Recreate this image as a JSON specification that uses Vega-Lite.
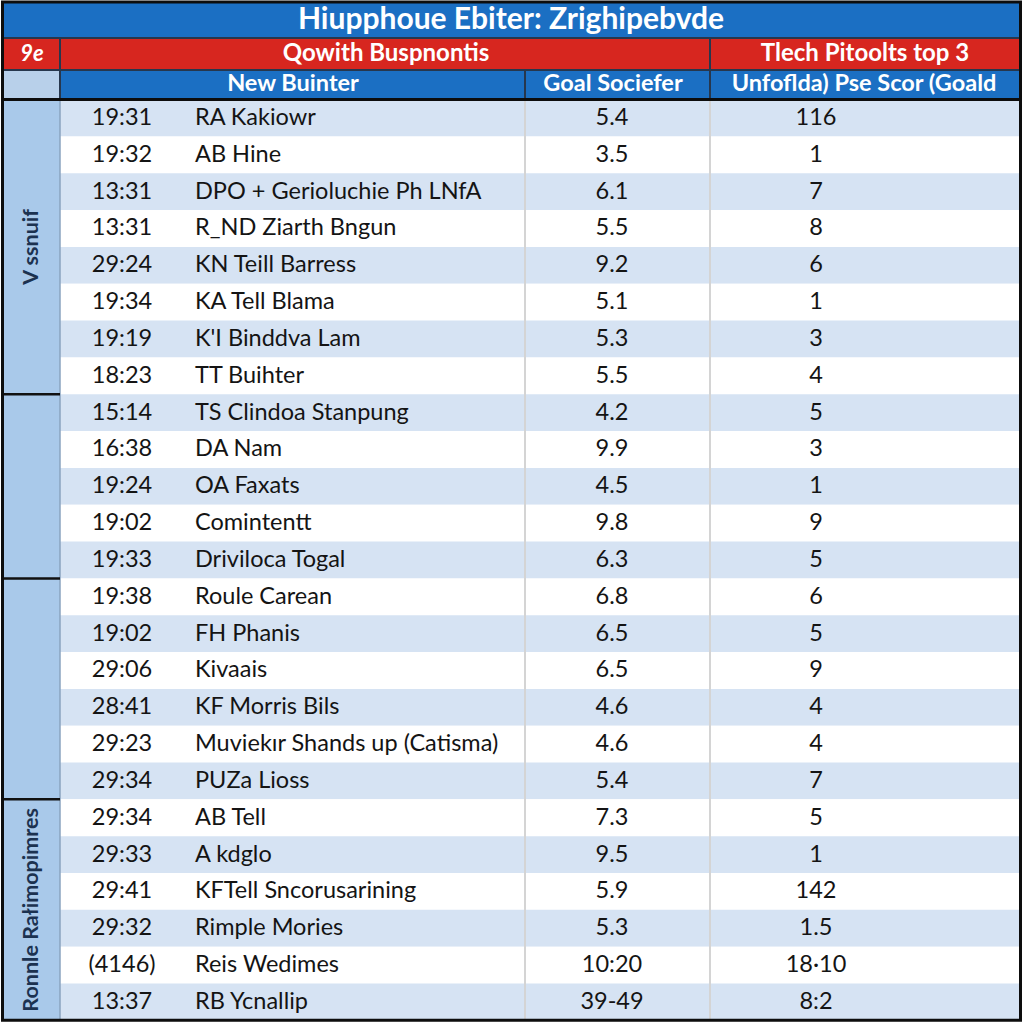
{
  "$schema": "https://vega.github.io/schema/vega-lite/v6.json",
  "width": 1024,
  "height": 1024,
  "padding": 0,
  "autosize": {"type": "none"},
  "background": "#ffffff",
  "config": {"view": {"stroke": null}, "axis": {"disable": true}},
  "datasets": {
    "rows": [
      {"time": "19:31", "name": "RA Kakiowr", "goal": "5.4", "score": "116", "section": "A", "label": "V ssnuif"},
      {"time": "19:32", "name": "AB Hine", "goal": "3.5", "score": "1", "section": "A", "label": "V ssnuif"},
      {"time": "13:31", "name": "DPO + Gerioluchie Ph LNfA", "goal": "6.1", "score": "7", "section": "A", "label": "V ssnuif"},
      {"time": "13:31", "name": "R_ND  Ziarth Bngun", "goal": "5.5", "score": "8", "section": "A", "label": "V ssnuif"},
      {"time": "29:24", "name": "KN Teill Barress", "goal": "9.2", "score": "6", "section": "A", "label": "V ssnuif"},
      {"time": "19:34", "name": "KA Tell Blama", "goal": "5.1", "score": "1", "section": "A", "label": "V ssnuif"},
      {"time": "19:19", "name": "K'I Binddva Lam", "goal": "5.3", "score": "3", "section": "A", "label": "V ssnuif"},
      {"time": "18:23", "name": "TT Buihter", "goal": "5.5", "score": "4", "section": "A", "label": "V ssnuif"},
      {"time": "15:14", "name": "TS Clindoa Stanpung", "goal": "4.2", "score": "5", "section": "B", "label": ""},
      {"time": "16:38", "name": "DA Nam", "goal": "9.9", "score": "3", "section": "B", "label": ""},
      {"time": "19:24", "name": "OA Faxats", "goal": "4.5", "score": "1", "section": "B", "label": ""},
      {"time": "19:02", "name": "Comintentt", "goal": "9.8", "score": "9", "section": "B", "label": ""},
      {"time": "19:33", "name": "Driviloca Togal", "goal": "6.3", "score": "5", "section": "B", "label": ""},
      {"time": "19:38", "name": "Roule Carean", "goal": "6.8", "score": "6", "section": "C", "label": ""},
      {"time": "19:02", "name": "FH Phanis", "goal": "6.5", "score": "5", "section": "C", "label": ""},
      {"time": "29:06", "name": "Kivaais", "goal": "6.5", "score": "9", "section": "C", "label": ""},
      {"time": "28:41", "name": "KF Morris Bils", "goal": "4.6", "score": "4", "section": "C", "label": ""},
      {"time": "29:23", "name": "Muviekır Shands up (Catisma)", "goal": "4.6", "score": "4", "section": "C", "label": ""},
      {"time": "29:34", "name": "PUZa Lioss", "goal": "5.4", "score": "7", "section": "C", "label": ""},
      {"time": "29:34", "name": "AB Tell", "goal": "7.3", "score": "5", "section": "D", "label": "Ronnle Rałimopimres"},
      {"time": "29:33", "name": "A kdglo", "goal": "9.5", "score": "1", "section": "D", "label": "Ronnle Rałimopimres"},
      {"time": "29:41", "name": "KFTell Sncorusarining", "goal": "5.9", "score": "142", "section": "D", "label": "Ronnle Rałimopimres"},
      {"time": "29:32", "name": "Rimple Mories", "goal": "5.3", "score": "1.5", "section": "D", "label": "Ronnle Rałimopimres"},
      {"time": "(4146)", "name": "Reis Wedimes", "goal": "10:20", "score": "18·10", "section": "D", "label": "Ronnle Rałimopimres"},
      {"time": "13:37", "name": "RB Ycnallip", "goal": "39-49", "score": "8:2", "section": "D", "label": "Ronnle Rałimopimres"}
    ]
  },
  "data": {"values": [{"cell": "table"}]},
  "layer": [
    {
      "data": {"name": "rows"},
      "transform": [{"window": [{"op": "row_number", "as": "i"}]}, {"calculate": "datum.i - 1", "as": "i0"}],
      "mark": {"type": "rect"},
      "encoding": {
        "x": {"datum": 60, "type": "quantitative", "scale": {"domain": [0, 1024], "nice": false, "zero": false}},
        "x2": {"datum": 1020},
        "y": {"field": "i0", "type": "quantitative", "scale": {"domain": [-2.704, 25.099], "nice": false, "zero": false, "reverse": true}},
        "y2": {"field": "i"},
        "fill": {"condition": {"test": "datum.i % 2 == 1", "value": "#d6e3f3"}, "value": "#ffffff"}
      }
    },
    {
      "mark": {"type": "rect", "fill": "#a9c9ea"},
      "encoding": {
        "x": {"datum": 3, "type": "quantitative", "scale": {"domain": [0, 1024], "nice": false, "zero": false}},
        "x2": {"datum": 60},
        "y": {"datum": 0, "type": "quantitative", "scale": {"domain": [-2.704, 25.099], "nice": false, "zero": false, "reverse": true}},
        "y2": {"datum": 25}
      }
    },
    {
      "mark": {"type": "rule", "stroke": "#d4d4d4", "strokeWidth": 2},
      "encoding": {
        "x": {"datum": 525, "type": "quantitative", "scale": {"domain": [0, 1024], "nice": false, "zero": false}},
        "y": {"datum": 0, "type": "quantitative", "scale": {"domain": [-2.704, 25.099], "nice": false, "zero": false, "reverse": true}},
        "y2": {"datum": 25}
      }
    },
    {
      "mark": {"type": "rule", "stroke": "#d4d4d4", "strokeWidth": 2},
      "encoding": {
        "x": {"datum": 710, "type": "quantitative", "scale": {"domain": [0, 1024], "nice": false, "zero": false}},
        "y": {"datum": 0, "type": "quantitative", "scale": {"domain": [-2.704, 25.099], "nice": false, "zero": false, "reverse": true}},
        "y2": {"datum": 25}
      }
    },
    {
      "mark": {"type": "rule", "stroke": "#8aa3bf", "strokeWidth": 1.5},
      "encoding": {
        "x": {"datum": 60, "type": "quantitative", "scale": {"domain": [0, 1024], "nice": false, "zero": false}},
        "y": {"datum": 0, "type": "quantitative", "scale": {"domain": [-2.704, 25.099], "nice": false, "zero": false, "reverse": true}},
        "y2": {"datum": 25}
      }
    },
    {
      "data": {"name": "rows"},
      "transform": [
        {"window": [{"op": "row_number", "as": "i"}]},
        {"aggregate": [{"op": "max", "field": "i", "as": "last"}], "groupby": ["section"]},
        {"filter": "datum.last < 25"}
      ],
      "mark": {"type": "rule", "stroke": "#111111", "strokeWidth": 2.5},
      "encoding": {
        "x": {"datum": 3, "type": "quantitative", "scale": {"domain": [0, 1024], "nice": false, "zero": false}},
        "x2": {"datum": 60},
        "y": {"field": "last", "type": "quantitative", "scale": {"domain": [-2.704, 25.099], "nice": false, "zero": false, "reverse": true}}
      }
    },
    {
      "data": {"name": "rows"},
      "transform": [
        {"window": [{"op": "row_number", "as": "i"}]},
        {"aggregate": [{"op": "min", "field": "i", "as": "first"}, {"op": "max", "field": "i", "as": "last"}], "groupby": ["section", "label"]},
        {"calculate": "(datum.first - 1 + datum.last) / 2", "as": "mid"}
      ],
      "mark": {"type": "text", "angle": 270, "font": "Lato", "fontWeight": "bold", "fontSize": 21.5, "fill": "#1c3250", "align": "center", "baseline": "middle"},
      "encoding": {
        "x": {"datum": 32, "type": "quantitative", "scale": {"domain": [0, 1024], "nice": false, "zero": false}},
        "y": {"field": "mid", "type": "quantitative", "scale": {"domain": [-2.704, 25.099], "nice": false, "zero": false, "reverse": true}},
        "text": {"field": "label"}
      }
    },
    {
      "mark": {"type": "rect", "fill": "#1b6fc3"},
      "encoding": {
        "x": {"datum": 3, "type": "quantitative", "scale": {"domain": [0, 1024], "nice": false, "zero": false}},
        "x2": {"datum": 1020},
        "y": {"datum": -2.65, "type": "quantitative", "scale": {"domain": [-2.704, 25.099], "nice": false, "zero": false, "reverse": true}},
        "y2": {"datum": -1.673}
      }
    },
    {
      "mark": {"type": "rect", "fill": "#d7261f"},
      "encoding": {
        "x": {"datum": 3, "type": "quantitative", "scale": {"domain": [0, 1024], "nice": false, "zero": false}},
        "x2": {"datum": 1020},
        "y": {"datum": -1.673, "type": "quantitative", "scale": {"domain": [-2.704, 25.099], "nice": false, "zero": false, "reverse": true}},
        "y2": {"datum": -0.804}
      }
    },
    {
      "mark": {"type": "rect", "fill": "#1b6fc3"},
      "encoding": {
        "x": {"datum": 60, "type": "quantitative", "scale": {"domain": [0, 1024], "nice": false, "zero": false}},
        "x2": {"datum": 1020},
        "y": {"datum": -0.804, "type": "quantitative", "scale": {"domain": [-2.704, 25.099], "nice": false, "zero": false, "reverse": true}},
        "y2": {"datum": 0}
      }
    },
    {
      "mark": {"type": "rect", "fill": "#b8d0ea"},
      "encoding": {
        "x": {"datum": 3, "type": "quantitative", "scale": {"domain": [0, 1024], "nice": false, "zero": false}},
        "x2": {"datum": 60},
        "y": {"datum": -0.804, "type": "quantitative", "scale": {"domain": [-2.704, 25.099], "nice": false, "zero": false, "reverse": true}},
        "y2": {"datum": 0}
      }
    },
    {
      "mark": {"type": "rule", "stroke": "#27374d", "strokeWidth": 2},
      "encoding": {
        "x": {"datum": 3, "type": "quantitative", "scale": {"domain": [0, 1024], "nice": false, "zero": false}},
        "x2": {"datum": 1020},
        "y": {"datum": -1.673, "type": "quantitative", "scale": {"domain": [-2.704, 25.099], "nice": false, "zero": false, "reverse": true}}
      }
    },
    {
      "mark": {"type": "rule", "stroke": "#27374d", "strokeWidth": 2},
      "encoding": {
        "x": {"datum": 3, "type": "quantitative", "scale": {"domain": [0, 1024], "nice": false, "zero": false}},
        "x2": {"datum": 1020},
        "y": {"datum": -0.804, "type": "quantitative", "scale": {"domain": [-2.704, 25.099], "nice": false, "zero": false, "reverse": true}}
      }
    },
    {
      "mark": {"type": "rule", "stroke": "#27374d", "strokeWidth": 2},
      "encoding": {
        "x": {"datum": 60, "type": "quantitative", "scale": {"domain": [0, 1024], "nice": false, "zero": false}},
        "y": {"datum": -1.673, "type": "quantitative", "scale": {"domain": [-2.704, 25.099], "nice": false, "zero": false, "reverse": true}},
        "y2": {"datum": 0}
      }
    },
    {
      "mark": {"type": "rule", "stroke": "#27374d", "strokeWidth": 2},
      "encoding": {
        "x": {"datum": 710, "type": "quantitative", "scale": {"domain": [0, 1024], "nice": false, "zero": false}},
        "y": {"datum": -1.673, "type": "quantitative", "scale": {"domain": [-2.704, 25.099], "nice": false, "zero": false, "reverse": true}},
        "y2": {"datum": 0}
      }
    },
    {
      "mark": {"type": "rule", "stroke": "#27374d", "strokeWidth": 2},
      "encoding": {
        "x": {"datum": 525, "type": "quantitative", "scale": {"domain": [0, 1024], "nice": false, "zero": false}},
        "y": {"datum": -0.804, "type": "quantitative", "scale": {"domain": [-2.704, 25.099], "nice": false, "zero": false, "reverse": true}},
        "y2": {"datum": 0}
      }
    },
    {
      "mark": {"type": "rule", "stroke": "#0d0d0d", "strokeWidth": 3},
      "encoding": {
        "x": {"datum": 3, "type": "quantitative", "scale": {"domain": [0, 1024], "nice": false, "zero": false}},
        "x2": {"datum": 1020},
        "y": {"datum": 0, "type": "quantitative", "scale": {"domain": [-2.704, 25.099], "nice": false, "zero": false, "reverse": true}}
      }
    },
    {
      "mark": {"type": "rect", "fill": null, "fillOpacity": 0, "stroke": "#0d0d0d", "strokeWidth": 3},
      "encoding": {
        "x": {"datum": 2.5, "type": "quantitative", "scale": {"domain": [0, 1024], "nice": false, "zero": false}},
        "x2": {"datum": 1020.5},
        "y": {"datum": -2.65, "type": "quantitative", "scale": {"domain": [-2.704, 25.099], "nice": false, "zero": false, "reverse": true}},
        "y2": {"datum": 25.0}
      }
    },
    {
      "data": {"values": [{"t": "Hiupphoue Ebiter: Zrighipebvde"}]},
      "mark": {"type": "text", "font": "Lato", "fontWeight": "bold", "fontSize": 30, "fill": "#ffffff", "align": "center", "baseline": "middle"},
      "encoding": {
        "x": {"datum": 511, "type": "quantitative", "scale": {"domain": [0, 1024], "nice": false, "zero": false}},
        "y": {"datum": -2.15, "type": "quantitative", "scale": {"domain": [-2.704, 25.099], "nice": false, "zero": false, "reverse": true}},
        "text": {"field": "t"}
      }
    },
    {
      "data": {"values": [{"t": "9e"}]},
      "mark": {"type": "text", "font": "Lato", "fontWeight": "bold", "fontStyle": "italic", "fontSize": 22, "fill": "#ffffff", "align": "center", "baseline": "middle"},
      "encoding": {
        "x": {"datum": 32, "type": "quantitative", "scale": {"domain": [0, 1024], "nice": false, "zero": false}},
        "y": {"datum": -1.238, "type": "quantitative", "scale": {"domain": [-2.704, 25.099], "nice": false, "zero": false, "reverse": true}},
        "text": {"field": "t"}
      }
    },
    {
      "data": {"values": [{"t": "Qowith Buspnontis"}]},
      "mark": {"type": "text", "font": "Lato", "fontWeight": "bold", "fontSize": 24, "fill": "#ffffff", "align": "center", "baseline": "middle"},
      "encoding": {
        "x": {"datum": 386, "type": "quantitative", "scale": {"domain": [0, 1024], "nice": false, "zero": false}},
        "y": {"datum": -1.238, "type": "quantitative", "scale": {"domain": [-2.704, 25.099], "nice": false, "zero": false, "reverse": true}},
        "text": {"field": "t"}
      }
    },
    {
      "data": {"values": [{"t": "Tlech Pitoolts top 3"}]},
      "mark": {"type": "text", "font": "Lato", "fontWeight": "bold", "fontSize": 24, "fill": "#ffffff", "align": "center", "baseline": "middle"},
      "encoding": {
        "x": {"datum": 865, "type": "quantitative", "scale": {"domain": [0, 1024], "nice": false, "zero": false}},
        "y": {"datum": -1.238, "type": "quantitative", "scale": {"domain": [-2.704, 25.099], "nice": false, "zero": false, "reverse": true}},
        "text": {"field": "t"}
      }
    },
    {
      "data": {"values": [{"t": "New Buinter"}]},
      "mark": {"type": "text", "font": "Lato", "fontWeight": "bold", "fontSize": 23.5, "fill": "#ffffff", "align": "center", "baseline": "middle"},
      "encoding": {
        "x": {"datum": 293, "type": "quantitative", "scale": {"domain": [0, 1024], "nice": false, "zero": false}},
        "y": {"datum": -0.424, "type": "quantitative", "scale": {"domain": [-2.704, 25.099], "nice": false, "zero": false, "reverse": true}},
        "text": {"field": "t"}
      }
    },
    {
      "data": {"values": [{"t": "Goal Sociefer"}]},
      "mark": {"type": "text", "font": "Lato", "fontWeight": "bold", "fontSize": 23.5, "fill": "#ffffff", "align": "center", "baseline": "middle"},
      "encoding": {
        "x": {"datum": 613, "type": "quantitative", "scale": {"domain": [0, 1024], "nice": false, "zero": false}},
        "y": {"datum": -0.424, "type": "quantitative", "scale": {"domain": [-2.704, 25.099], "nice": false, "zero": false, "reverse": true}},
        "text": {"field": "t"}
      }
    },
    {
      "data": {"values": [{"t": "Unfoflda) Pse Scor (Goald"}]},
      "mark": {"type": "text", "font": "Lato", "fontWeight": "bold", "fontSize": 23.5, "fill": "#ffffff", "align": "center", "baseline": "middle"},
      "encoding": {
        "x": {"datum": 864, "type": "quantitative", "scale": {"domain": [0, 1024], "nice": false, "zero": false}},
        "y": {"datum": -0.424, "type": "quantitative", "scale": {"domain": [-2.704, 25.099], "nice": false, "zero": false, "reverse": true}},
        "text": {"field": "t"}
      }
    },
    {
      "data": {"name": "rows"},
      "transform": [{"window": [{"op": "row_number", "as": "i"}]}, {"calculate": "datum.i - 0.5", "as": "mid"}],
      "mark": {"type": "text", "font": "Lato", "fontSize": 23.5, "fill": "#141414", "align": "center", "baseline": "middle"},
      "encoding": {
        "x": {"datum": 122, "type": "quantitative", "scale": {"domain": [0, 1024], "nice": false, "zero": false}},
        "y": {"field": "mid", "type": "quantitative", "scale": {"domain": [-2.704, 25.099], "nice": false, "zero": false, "reverse": true}},
        "text": {"field": "time"}
      }
    },
    {
      "data": {"name": "rows"},
      "transform": [{"window": [{"op": "row_number", "as": "i"}]}, {"calculate": "datum.i - 0.5", "as": "mid"}],
      "mark": {"type": "text", "font": "Lato", "fontSize": 23.5, "fill": "#141414", "align": "left", "baseline": "middle"},
      "encoding": {
        "x": {"datum": 195, "type": "quantitative", "scale": {"domain": [0, 1024], "nice": false, "zero": false}},
        "y": {"field": "mid", "type": "quantitative", "scale": {"domain": [-2.704, 25.099], "nice": false, "zero": false, "reverse": true}},
        "text": {"field": "name"}
      }
    },
    {
      "data": {"name": "rows"},
      "transform": [{"window": [{"op": "row_number", "as": "i"}]}, {"calculate": "datum.i - 0.5", "as": "mid"}],
      "mark": {"type": "text", "font": "Lato", "fontSize": 23.5, "fill": "#141414", "align": "center", "baseline": "middle"},
      "encoding": {
        "x": {"datum": 612, "type": "quantitative", "scale": {"domain": [0, 1024], "nice": false, "zero": false}},
        "y": {"field": "mid", "type": "quantitative", "scale": {"domain": [-2.704, 25.099], "nice": false, "zero": false, "reverse": true}},
        "text": {"field": "goal"}
      }
    },
    {
      "data": {"name": "rows"},
      "transform": [{"window": [{"op": "row_number", "as": "i"}]}, {"calculate": "datum.i - 0.5", "as": "mid"}],
      "mark": {"type": "text", "font": "Lato", "fontSize": 23.5, "fill": "#141414", "align": "center", "baseline": "middle"},
      "encoding": {
        "x": {"datum": 816, "type": "quantitative", "scale": {"domain": [0, 1024], "nice": false, "zero": false}},
        "y": {"field": "mid", "type": "quantitative", "scale": {"domain": [-2.704, 25.099], "nice": false, "zero": false, "reverse": true}},
        "text": {"field": "score"}
      }
    }
  ]
}
